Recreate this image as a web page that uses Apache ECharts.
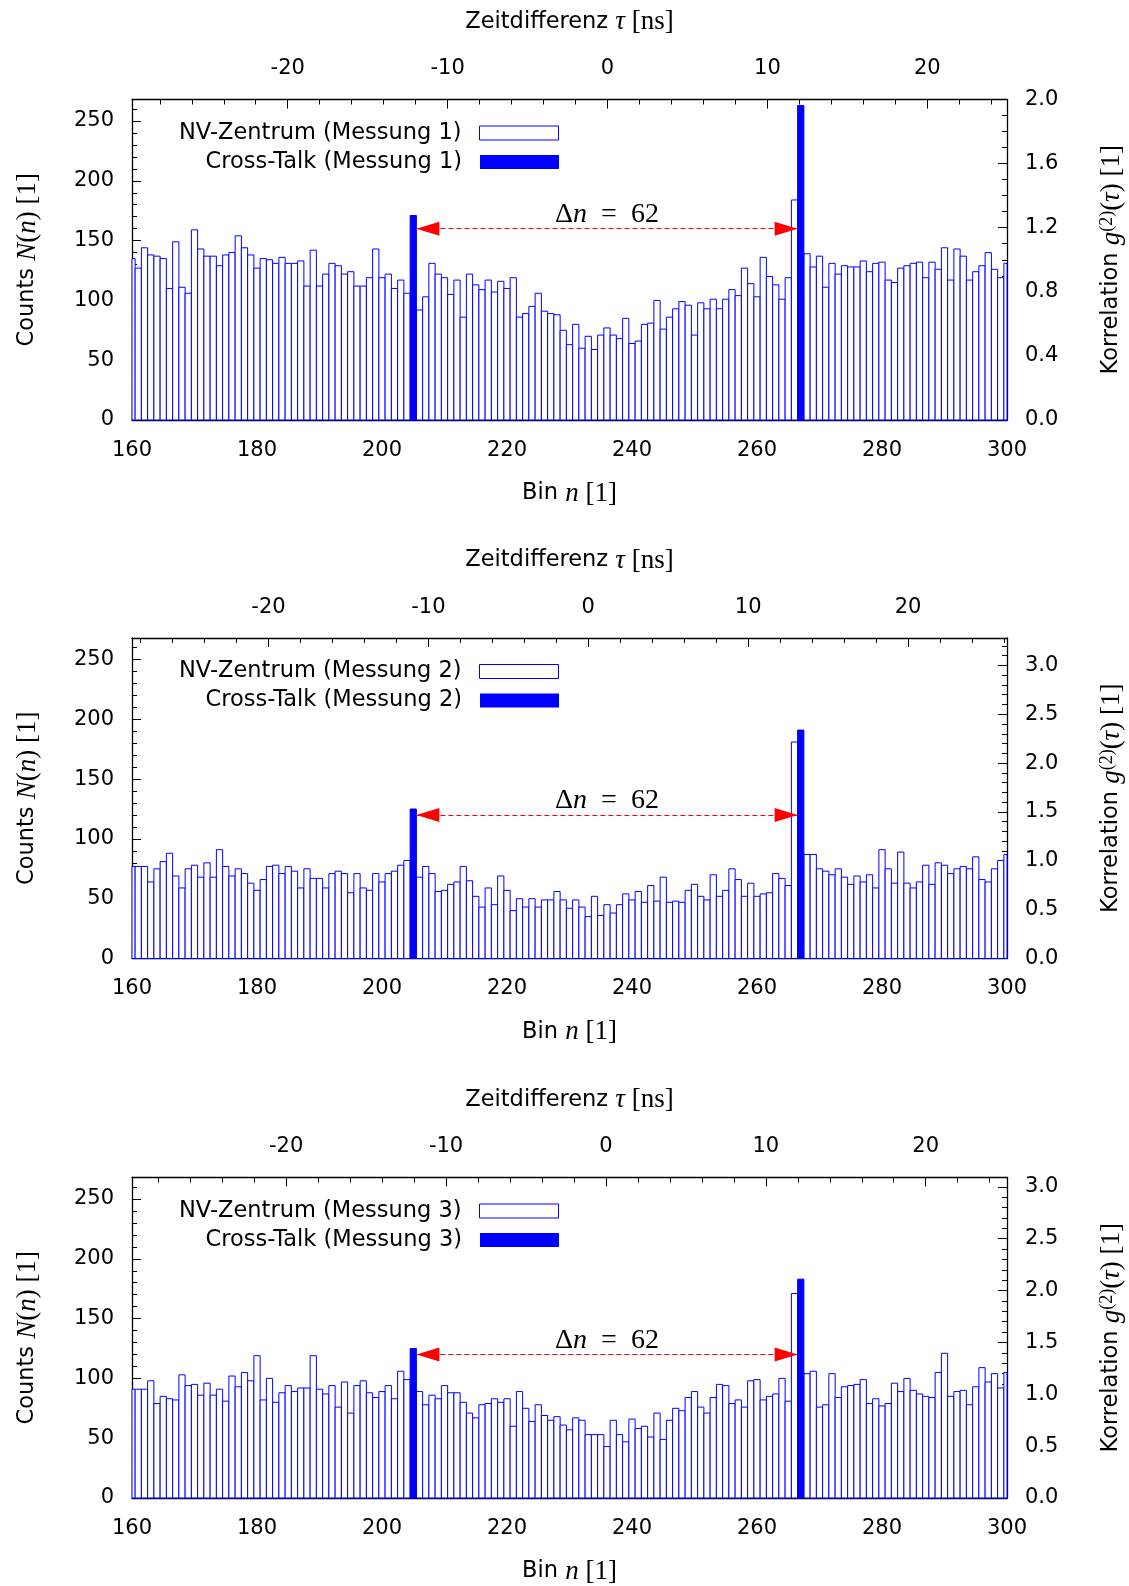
<!DOCTYPE html>
<html>
<head>
<meta charset="utf-8">
<script src="https://cdn.jsdelivr.net/npm/echarts@6/dist/echarts.min.js"></script>
<style>
  html, body { margin: 0; padding: 0; background: #ffffff; }
  #chart { width: 1129px; height: 1586px; }
</style>
</head>
<body>
<div id="chart"></div>
<script>
// Histogram bins n = 160 ... 300
const binStart = 160;
const binEnd = 300;

// NV-Zentrum counts per bin (null where the cross-talk bin sits on top)
const countsM1 = [
  135,127,144,138,137,135,110,149,111,106,
  159,143,137,137,129,138,140,154,144,138,
  127,135,134,131,136,131,131,133,112,142,
  112,122,131,129,122,124,112,112,119,143,
  119,122,110,117,106,null,92,103,131,122,
  119,105,117,86,122,113,109,117,107,116,
  110,119,86,89,95,106,91,89,88,75,
  63,80,60,70,59,71,77,71,68,85,
  64,66,80,81,100,76,86,93,99,96,
  71,98,93,101,93,101,109,104,127,114,
  103,136,120,113,101,119,184,null,139,128,
  137,111,131,122,129,128,128,133,124,131,
  132,117,115,127,129,131,132,119,132,126,
  144,117,143,137,117,124,129,140,126,119,
  131
];
const countsM2 = [
  77,77,77,64,75,81,88,69,59,75,
  78,68,80,68,91,77,69,75,71,63,
  57,66,77,78,71,77,73,59,75,67,
  67,59,71,73,71,55,71,59,57,71,
  64,71,73,78,82,null,68,77,71,56,
  57,62,64,77,65,52,43,59,45,69,
  57,40,50,43,50,43,49,49,56,49,
  42,49,43,35,52,36,45,38,45,54,
  49,56,47,61,48,68,47,48,47,57,
  62,52,49,70,52,57,75,66,52,63,
  52,54,55,71,67,61,181,null,87,87,
  75,73,70,75,68,62,69,64,70,59,
  91,75,63,89,63,59,64,78,62,80,
  78,71,75,77,75,85,66,64,75,82,
  87
];
const countsM3 = [
  91,91,91,98,79,85,83,82,103,94,
  95,86,96,86,91,81,102,93,105,98,
  119,82,100,80,88,94,89,92,92,119,
  91,87,94,76,97,71,94,98,88,84,
  89,94,83,106,99,null,89,78,86,83,
  94,88,88,80,71,67,78,79,83,80,
  83,60,89,75,64,78,69,65,68,61,
  57,67,65,53,53,53,43,65,53,47,
  66,58,60,51,71,49,65,75,73,84,
  89,76,71,84,95,94,79,82,76,98,
  99,82,85,87,100,81,171,null,104,106,
  76,78,104,84,93,94,95,99,79,83,
  77,79,96,89,100,90,87,85,84,105,
  121,85,89,90,78,93,109,97,104,92,
  105
];

// Cross-talk bins and their counts
const crossBins = [205, 267];
const crossM1 = [171, 263];
const crossM2 = [125, 191];
const crossM3 = [125, 183];

// Height (counts) of the distance arrow between the two cross-talk bins
const arrowLevel = [160, 120, 120];

// Axis scales
const countMax = 268;
const countStep = 50;
const binStep = 20;
const g2Max = [2.0, 3.28, 3.09];
const g2Step = [0.4, 0.5, 0.5];
const g2Minor = [4, 5, 5];
const tauZeroBin = [236.08, 233.0, 235.83];
const nsPerBin = 0.3909;

const measurements = ['Messung 1', 'Messung 2', 'Messung 3'];
const countsAll = [countsM1, countsM2, countsM3];
const crossAll = [crossM1, crossM2, crossM3];

const SANS = 'DejaVu Sans';
const SERIF = 'Liberation Serif';
const BLUE = '#0000ff';
const RED = '#ff0000';

const rich = {
  s: { fontFamily: SANS, fontSize: 22.5, color: '#000' },
  m: { fontFamily: SERIF, fontStyle: 'italic', fontSize: 27, color: '#000' },
  r: { fontFamily: SERIF, fontSize: 27, color: '#000' },
  sup: { fontFamily: SERIF, fontSize: 18, color: '#000', verticalAlign: 'top' }
};
const richDelta = {
  m: { fontFamily: SERIF, fontStyle: 'italic', fontSize: 28, color: '#000' },
  r: { fontFamily: SERIF, fontSize: 28, color: '#000' }
};

const gridTops = [99.5, 638, 1177.5];
const gridLeft = 132, gridWidth = 875, gridHeight = 320.5;

function multipleOf(v, step) {
  const k = v / step;
  return Math.abs(k - Math.round(k)) < 1e-6;
}

function barRenderer(fill, stroke) {
  return function (params, api) {
    const n = api.value(0);
    const v = api.value(1);
    if (v == null || isNaN(v)) return null;
    const a = api.coord([n - 0.5, v]);
    const b = api.coord([n + 0.5, 0]);
    const cs = params.coordSys;
    const x0 = Math.max(a[0], cs.x);
    const x1 = Math.min(b[0], cs.x + cs.width);
    return {
      type: 'rect',
      shape: { x: x0, y: a[1], width: x1 - x0, height: b[1] - a[1] },
      style: { fill: fill, stroke: stroke, lineWidth: 1 }
    };
  };
}

const axisLineStyle = { show: true, onZero: false, lineStyle: { color: '#000', width: 1.3 } };
const tickStyle = { show: true, inside: true, length: 9, lineStyle: { color: '#000', width: 1 } };
const labelBase = { color: '#000', fontFamily: SANS, fontSize: 21 };

const grids = [], xAxes = [], yAxes = [], series = [], legends = [];

for (let p = 0; p < 3; p++) {
  const top = gridTops[p];
  grids.push({ left: gridLeft, top: top, width: gridWidth, height: gridHeight,
               containLabel: false, outerBoundsMode: 'none' });

  // bottom: bin number
  xAxes.push({
    gridIndex: p, type: 'value', position: 'bottom',
    min: binStart, max: binEnd, interval: binStep,
    name: '{s|Bin }{m|n}{r| [1]}', nameLocation: 'middle', nameGap: 60,
    nameTextStyle: { rich: rich },
    axisLine: axisLineStyle, axisTick: tickStyle,
    minorTick: { show: false }, splitLine: { show: false },
    axisLabel: Object.assign({ margin: 20, formatter: v => String(Math.round(v)) }, labelBase)
  });
  // top: time difference in ns
  const tauMin = (binStart - tauZeroBin[p]) * nsPerBin;
  const tauMax = (binEnd - tauZeroBin[p]) * nsPerBin;
  xAxes.push({
    gridIndex: p, type: 'value', position: 'top',
    min: tauMin, max: tauMax, splitNumber: 5,
    name: '{s|Zeitdifferenz }{m|τ}{r| [ns]}', nameLocation: 'middle', nameGap: 64,
    nameTextStyle: { rich: rich },
    axisLine: axisLineStyle, axisTick: tickStyle,
    minorTick: { show: true, splitNumber: 5, length: 5, lineStyle: { color: '#000', width: 1 } },
    splitLine: { show: false },
    axisLabel: Object.assign({ margin: 20, showMinLabel: false, showMaxLabel: false,
      formatter: v => multipleOf(v, 10) ? String(Math.round(v)) : '' }, labelBase)
  });

  // left: counts
  yAxes.push({
    gridIndex: p, type: 'value', position: 'left',
    min: 0, max: countMax, interval: countStep,
    name: '{s|Counts }{m|N}{r|(}{m|n}{r|) [1]}', nameLocation: 'middle', nameRotate: 90, nameGap: 91,
    nameTextStyle: { rich: rich },
    axisLine: axisLineStyle, axisTick: tickStyle,
    minorTick: { show: true, splitNumber: 5, length: 5, lineStyle: { color: '#000', width: 1 } },
    splitLine: { show: false },
    axisLabel: Object.assign({ margin: 18,
      formatter: v => multipleOf(v, countStep) ? String(Math.round(v)) : '' }, labelBase)
  });
  // right: g2 correlation
  const gs = g2Step[p];
  yAxes.push({
    gridIndex: p, type: 'value', position: 'right',
    min: 0, max: g2Max[p], interval: gs,
    name: '{s|Korrelation }{m|g}{sup|(2)}{r|(}{m|τ}{r|) [1]}', nameLocation: 'middle', nameRotate: 90, nameGap: 91,
    nameTextStyle: { rich: rich },
    axisLine: axisLineStyle, axisTick: tickStyle,
    minorTick: { show: true, splitNumber: g2Minor[p], length: 5, lineStyle: { color: '#000', width: 1 } },
    splitLine: { show: false },
    axisLabel: Object.assign({ margin: 18,
      formatter: v => multipleOf(v, gs) ? v.toFixed(1) : '' }, labelBase)
  });

  const nvName = 'NV-Zentrum (' + measurements[p] + ')';
  const ctName = 'Cross-Talk (' + measurements[p] + ')';
  const counts = countsAll[p];
  const nvData = [];
  for (let n = binStart; n <= binEnd; n++) nvData.push([n, counts[n - binStart]]);
  const ctData = crossBins.map((n, i) => [n, crossAll[p][i]]);
  const binDistance = crossBins[1] - crossBins[0];

  series.push({
    name: nvName, type: 'custom', xAxisIndex: 2 * p, yAxisIndex: 2 * p,
    renderItem: barRenderer('#ffffff', BLUE), data: nvData,
    encode: { x: 0, y: 1 }, itemStyle: { color: BLUE }, silent: true, z: 2
  });
  series.push({
    name: ctName, type: 'custom', xAxisIndex: 2 * p, yAxisIndex: 2 * p,
    renderItem: barRenderer(BLUE, BLUE), data: ctData,
    encode: { x: 0, y: 1 }, itemStyle: { color: BLUE }, silent: true, z: 3,
    markLine: {
      silent: true, animation: false,
      symbol: ['triangle', 'triangle'], symbolSize: [14, 23],
      symbolOffset: [[0, '50%'], [0, '50%']],
      lineStyle: { color: RED, type: [5, 3], width: 1, opacity: 1 },
      itemStyle: { color: RED },
      label: { show: true, position: 'middle', distance: 0,
               formatter: '{r|Δ}{m|n}{r|  =  ' + binDistance + '}', rich: richDelta },
      emphasis: { disabled: true },
      data: [[
        { coord: [crossBins[0] + 0.5, arrowLevel[p]] },
        { coord: [crossBins[1] - 0.5, arrowLevel[p]] }
      ]]
    }
  });

  const legendCommon = {
    orient: 'horizontal', right: 565, align: 'right', icon: 'rect',
    itemWidth: 79, itemHeight: 14, selectedMode: false,
    textStyle: { fontFamily: SANS, fontSize: 22.5, color: '#000', padding: [0, 13, 0, 0] }
  };
  legends.push(Object.assign({}, legendCommon, {
    top: top + 17,
    data: [{ name: nvName, itemStyle: { color: '#ffffff', borderColor: BLUE, borderWidth: 1 } }]
  }));
  legends.push(Object.assign({}, legendCommon, {
    top: top + 46,
    data: [{ name: ctName, itemStyle: { color: BLUE, borderWidth: 0 } }]
  }));
}

const chart = echarts.init(document.getElementById('chart'), null, { renderer: 'canvas' });
chart.setOption({
  backgroundColor: '#ffffff',
  animation: false,
  grid: grids,
  xAxis: xAxes,
  yAxis: yAxes,
  legend: legends,
  series: series
});
</script>
</body>
</html>
